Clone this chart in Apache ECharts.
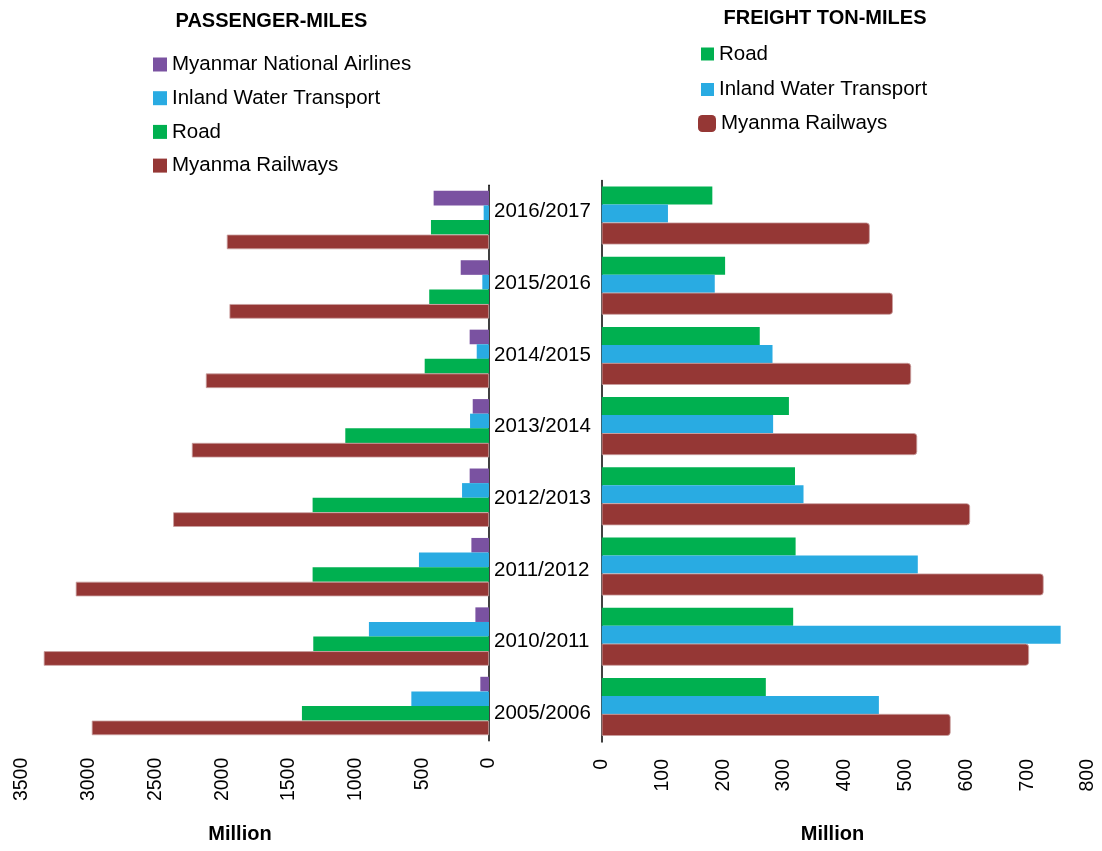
<!DOCTYPE html>
<html>
<head>
<meta charset="utf-8">
<script src="https://cdn.jsdelivr.net/npm/echarts@6/dist/echarts.min.js"></script>
<style>html,body{margin:0;padding:0;background:#fff}#c{width:1102px;height:851px}</style>
</head>
<body>
<div id="c"></div>
<script>
const years = ["2005/2006","2010/2011","2011/2012","2012/2013","2013/2014","2014/2015","2015/2016","2016/2017"];
const paxAirlines = [65,102,132,145,122,145,212,415];
const paxWater = [582,900,525,202,142,92,50,40];
const paxRoad = [1402,1317,1322,1322,1077,482,448,435];
const paxRail = [2977,3337,3097,2367,2227,2122,1945,1965];
const frRoad = [270,315,319,318,308,260,203,182];
const frWater = [456,755,520,332,282,281,186,109];
const frRail = [574,703,727,606,519,509,479,441];
const names = ["Myanmar National Airlines","Inland Water Transport","Road","Myanma Railways"];

const C = {air:'#7A52A1', water:'#29ABE2', road:'#00B050', rail:'#953735'};
const FONT = 'Liberation Sans, Arial, sans-serif';

const chart = echarts.init(document.getElementById('c'), null, {renderer:'canvas'});
const valAxisCommon = {
  type:'value', axisLine:{show:false}, axisTick:{show:false}, splitLine:{show:false},
  axisLabel:{rotate:90, fontSize:19.5, color:'#000', margin:17, fontFamily:FONT, formatter:function(v){return String(v);}}
};
const legendText = {fontSize:20.5, color:'#000', lineHeight:20, fontFamily:FONT};
chart.setOption({
  animation:false,
  textStyle:{fontFamily:FONT},
  grid:[
    {left:22, right:613, top:185.3, bottom:110.3},
    {left:601.7, right:14, top:180.4, bottom:109},
    {left:494, width:100, top:176, bottom:102}
  ],
  xAxis:[
    Object.assign({gridIndex:0, inverse:true, min:0, max:3500, interval:500}, valAxisCommon),
    Object.assign({gridIndex:1, min:0, max:800, interval:100}, valAxisCommon),
    {gridIndex:2, type:'value', show:false}
  ],
  yAxis:[
    {gridIndex:0, type:'category', data:years, position:'right',
     axisLine:{show:true, lineStyle:{color:'#000', width:1.5}}, axisTick:{show:false}, axisLabel:{show:false}},
    {gridIndex:1, type:'category', data:years, position:'left',
     axisLine:{show:true, lineStyle:{color:'#000', width:1.5}}, axisTick:{show:false}, axisLabel:{show:false}},
    {gridIndex:2, type:'category', data:years, position:'left',
     axisLine:{show:false}, axisTick:{show:false},
     axisLabel:{inside:true, margin:0, fontSize:20.5, color:'#000', fontFamily:FONT}}
  ],
  legend:[
    {orient:'vertical', left:153, top:54, padding:0, itemWidth:14, itemHeight:14, itemGap:12.7, icon:'rect',
     selectedMode:false, itemStyle:{borderWidth:0}, textStyle:legendText, data:names},
    {orient:'vertical', left:701, top:43.5, padding:0, itemWidth:13, itemHeight:13, itemGap:14.5, icon:'rect',
     selectedMode:false, itemStyle:{borderWidth:0}, textStyle:legendText, data:["Road","Inland Water Transport"]},
    {orient:'vertical', left:698, top:113, padding:0, itemWidth:18, itemHeight:17, icon:'roundRect',
     selectedMode:false, itemStyle:{borderWidth:0}, textStyle:legendText, data:["Myanma Railways"]}
  ],
  graphic:[
    {type:'text', x:271.5, y:21, style:{text:'PASSENGER-MILES', font:'bold 20px '+FONT, fill:'#000', textAlign:'center', textVerticalAlign:'middle'}},
    {type:'text', x:825, y:18, style:{text:'FREIGHT TON-MILES', font:'bold 20px '+FONT, fill:'#000', textAlign:'center', textVerticalAlign:'middle'}},
    {type:'text', x:240, y:834, style:{text:'Million', font:'bold 20px '+FONT, fill:'#000', textAlign:'center', textVerticalAlign:'middle'}},
    {type:'text', x:832.5, y:834, style:{text:'Million', font:'bold 20px '+FONT, fill:'#000', textAlign:'center', textVerticalAlign:'middle'}}
  ],
  series:[
    {name:names[0], type:'bar', xAxisIndex:0, yAxisIndex:0, data:paxAirlines, barWidth:14.6, barGap:'0%', itemStyle:{color:C.air}},
    {name:names[1], type:'bar', xAxisIndex:0, yAxisIndex:0, data:paxWater, barWidth:14.6, barGap:'0%', itemStyle:{color:C.water}},
    {name:names[2], type:'bar', xAxisIndex:0, yAxisIndex:0, data:paxRoad, barWidth:14.6, barGap:'0%', itemStyle:{color:C.road}},
    {name:names[3], type:'bar', xAxisIndex:0, yAxisIndex:0, data:paxRail, barWidth:14.6, barGap:'0%', itemStyle:{color:C.rail, borderColor:'#c9a0a0', borderWidth:0.8}},
    {name:"Road", type:'bar', xAxisIndex:1, yAxisIndex:1, data:frRoad, barWidth:18, barGap:'0%', itemStyle:{color:C.road}},
    {name:"Inland Water Transport", type:'bar', xAxisIndex:1, yAxisIndex:1, data:frWater, barWidth:18, barGap:'0%', itemStyle:{color:C.water}},
    {name:"Myanma Railways", type:'bar', xAxisIndex:1, yAxisIndex:1, data:frRail, barWidth:22, barGap:'0%', itemStyle:{color:C.rail, borderColor:'#c9a0a0', borderWidth:0.8, borderRadius:[0,3,3,0]}}
  ]
});
</script>
</body>
</html>
